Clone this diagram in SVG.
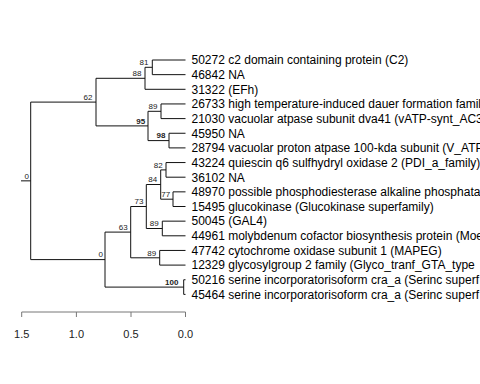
<svg xmlns="http://www.w3.org/2000/svg" width="480" height="384" viewBox="0 0 480 384">
<style>
.e{fill:none;stroke:#111;stroke-width:1}
.ax{fill:none;stroke:#777;stroke-width:1}
.tip{font-family:"Liberation Sans",Arial,sans-serif;font-size:12px;fill:#000}
.nl{font-family:"Liberation Sans",Arial,sans-serif;font-size:8px;fill:#222;text-anchor:middle}
.b{font-weight:bold}
.al{font-family:"Liberation Sans",Arial,sans-serif;font-size:11px;fill:#222;text-anchor:middle}
</style>
<rect width="480" height="384" fill="#fff"/>
<g id="connectors">
<path class="e" d="M21 180.85H30.7M30.7 102.1V259.6M30.7 102.1H96M30.7 259.6H105
M96 78.3V125.9M96 78.3H145M96 125.9H148
M145 67.3V89.3M145 67.3H152.3M145 89.3H185.5
M152.3 60V74.65M152.3 60H185.5M152.3 74.65H185.5
M148 111.3V140.6M148 111.3H161M148 140.6H169
M161 103.95V118.6M161 103.95H185.5M161 118.6H185.5
M169 133.25V147.9M169 133.25H185.5M169 147.9H185.5
M105 232.1V287.1M105 232.1H130.7M105 287.1H183.7
M130.7 206.5V257.8M130.7 206.5H146.3M130.7 257.8H159.7
M146.3 184.5V228.5M146.3 184.5H160.7M146.3 228.5H162.3
M160.7 169.9V199.2M160.7 169.9H166M160.7 199.2H173
M166 162.55V177.2M166 162.55H185.5M166 177.2H185.5
M173 191.85V206.5M173 191.85H185.5M173 206.5H185.5
M162.3 221.15V235.8M162.3 221.15H185.5M162.3 235.8H185.5
M159.7 250.45V265.1M159.7 250.45H185.5M159.7 265.1H185.5
M183.7 279.75V294.4M183.7 279.75H185.5M183.7 294.4H185.5"/>
</g>
<g id="leaves">
<g id="leaf0"><text class="tip" x="191.5" y="64.3">50272 c2 domain containing protein (C2)</text></g>
<g id="leaf1"><text class="tip" x="191.5" y="78.95">46842 NA</text></g>
<g id="leaf2"><text class="tip" x="191.5" y="93.6">31322 (EFh)</text></g>
<g id="leaf3"><text class="tip" x="191.5" y="108.25">26733 high temperature-induced dauer formation famil</text></g>
<g id="leaf4"><text class="tip" x="191.5" y="122.9">21030 vacuolar atpase subunit dva41 (vATP-synt_AC3</text></g>
<g id="leaf5"><text class="tip" x="191.5" y="137.55">45950 NA</text></g>
<g id="leaf6"><text class="tip" x="191.5" y="152.2">28794 vacuolar proton atpase 100-kda subunit (V_ATP</text></g>
<g id="leaf7"><text class="tip" x="191.5" y="166.85">43224 quiescin q6 sulfhydryl oxidase 2 (PDI_a_family)</text></g>
<g id="leaf8"><text class="tip" x="191.5" y="181.5">36102 NA</text></g>
<g id="leaf9"><text class="tip" x="191.5" y="196.15">48970 possible phosphodiesterase alkaline phosphata</text></g>
<g id="leaf10"><text class="tip" x="191.5" y="210.8">15495 glucokinase (Glucokinase superfamily)</text></g>
<g id="leaf11"><text class="tip" x="191.5" y="225.45">50045 (GAL4)</text></g>
<g id="leaf12"><text class="tip" x="191.5" y="240.1">44961 molybdenum cofactor biosynthesis protein (Moe</text></g>
<g id="leaf13"><text class="tip" x="191.5" y="254.75">47742 cytochrome oxidase subunit 1 (MAPEG)</text></g>
<g id="leaf14"><text class="tip" x="191.5" y="269.4">12329 glycosylgroup 2 family (Glyco_tranf_GTA_type</text></g>
<g id="leaf15"><text class="tip" x="191.5" y="284.05">50216 serine incorporatorisoform cra_a (Serinc superf</text></g>
<g id="leaf16"><text class="tip" x="191.5" y="298.7">45464 serine incorporatorisoform cra_a (Serinc superf</text></g>
</g>
<g id="nodes">
<g id="n_root"><text class="nl" x="26.7" y="178.6">0</text></g>
<g id="n62"><text class="nl" x="88" y="100.2">62</text></g>
<g id="n88"><text class="nl" x="137" y="76.2">88</text></g>
<g id="n81"><text class="nl" x="144" y="65.2">81</text></g>
<g id="n95"><text class="nl b" x="140.7" y="123.9">95</text></g>
<g id="n89a"><text class="nl" x="153" y="108.6">89</text></g>
<g id="n98"><text class="nl b" x="161" y="137.6">98</text></g>
<g id="n0"><text class="nl" x="100.7" y="256.9">0</text></g>
<g id="n63"><text class="nl" x="123.3" y="229.9">63</text></g>
<g id="n73"><text class="nl" x="139" y="203.9">73</text></g>
<g id="n84"><text class="nl" x="152.7" y="182.2">84</text></g>
<g id="n82"><text class="nl" x="158.3" y="167.9">82</text></g>
<g id="n77"><text class="nl" x="165.7" y="196.9">77</text></g>
<g id="n89b"><text class="nl" x="154.3" y="225.6">89</text></g>
<g id="n89c"><text class="nl" x="151.7" y="255.6">89</text></g>
<g id="n100"><text class="nl b" x="171.7" y="284.9">100</text></g>
</g>
<g id="axis">
<path class="ax" d="M21.7 312H185.5M21.7 312V317M76.4 312V317M131 312V317M185.5 312V317"/>
<text class="al" x="21.7" y="338">1.5</text>
<text class="al" x="76.4" y="338">1.0</text>
<text class="al" x="131" y="338">0.5</text>
<text class="al" x="185.5" y="338">0.0</text>
</g>
</svg>
